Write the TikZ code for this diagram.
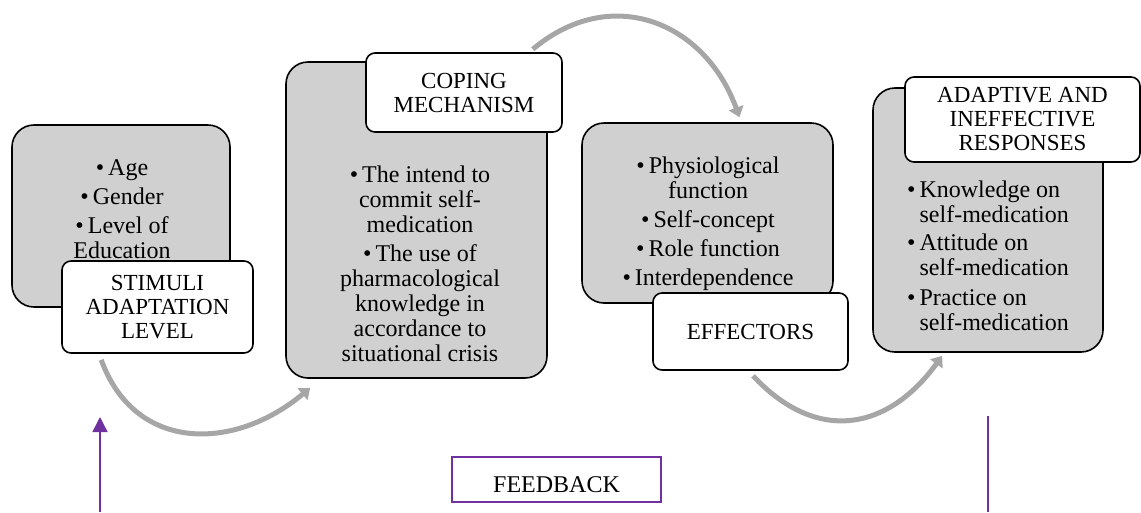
\documentclass[tikz,border=0pt]{standalone}
\usepackage{fontspec}
\setmainfont{Liberation Serif}
\usetikzlibrary{arrows.meta}
\definecolor{boxgray}{HTML}{D0D0D0}
\definecolor{arcgray}{HTML}{A6A6A6}
\definecolor{fbpurple}{HTML}{7030A0}
\newcommand{\itm}{\textbullet\kern4pt}

\begin{document}
\begin{tikzpicture}[x=1pt,y=1pt,
		panel/.style={draw=black,line width=1.6pt,fill=boxgray,rounded corners=22pt,inner sep=0pt},
		tag/.style={draw=black,line width=1.6pt,fill=white,rounded corners=9pt,inner sep=0pt,align=center,font=\fontsize{23}{24}\selectfont},
		items/.style={inner sep=0pt,anchor=north,align=center,font=\fontsize{24}{25}\selectfont},
		flow/.style={draw=arcgray,line width=5pt,-{Triangle[length=10pt,width=15pt]}},
		fbline/.style={draw=fbpurple,line width=1.3pt}]
	\useasboundingbox (0,0) rectangle (1141,-512);

	\node (stimbox) [panel,minimum width=218pt,minimum height=182pt] at (121,-216) {};
	\node (copebox) [panel,minimum width=261pt,minimum height=316pt] at (416.5,-220) {};
	\node (effbox) [panel,minimum width=251pt,minimum height=180pt] at (707.5,-213) {};
	\node (respbox) [panel,minimum width=230pt,minimum height=264pt] at (988,-220) {};

	\node (stimlist) [items] at (122,-159) {\itm Age\\[4pt]\itm Gender\\[4pt]\itm Level of\\Education};
	\node (copelist) [items] at (420,-166) {\itm The intend to\\commit self-\\medication\\[4pt]\itm The use of\\pharmacological\\knowledge in\\accordance to\\situational crisis};
	\node (efflist) [items] at (708,-157) {\itm Physiological\\function\\[4pt]\itm Self-concept\\[4pt]\itm Role function\\[4pt]\itm Interdependence};
	\node (resplist) [items,anchor=north west,align=left] at (907,-181) {\itm Knowledge on\\\phantom{\itm}self-medication\\[3pt]\itm Attitude on\\\phantom{\itm}self-medication\\[5pt]\itm Practice on\\\phantom{\itm}self-medication};

	\node (stimuli) [tag,minimum width=191pt,minimum height=92pt] at (157.5,-307) {STIMULI\\ADAPTATION\\LEVEL};
	\node (coping) [tag,minimum width=196pt,minimum height=79pt] at (464,-92.5) {COPING\\MECHANISM};
	\node (effectors) [tag,minimum width=195pt,minimum height=77pt] at (750.5,-331.5) {EFFECTORS};
	\node (responses) [tag,minimum width=235pt,minimum height=85pt] at (1022.5,-119.5) {ADAPTIVE AND\\INEFFECTIVE\\RESPONSES};

	\node (feedback) [draw=fbpurple,line width=2pt,minimum width=209pt,minimum height=45pt,inner sep=0pt,text height=25pt,text depth=0pt,font=\fontsize{24}{25}\selectfont] at (556.5,-479.5) {FEEDBACK};

	\draw [flow] ([xshift=40pt,yshift=-6pt]stimuli.south west) to[out=-70,in=220,looseness=1.2] ([xshift=25pt,yshift=-9pt]copebox.south west);
	\draw [flow] ([xshift=-30pt,yshift=3pt]coping.north east) to[out=40,in=110,looseness=1.2] ([xshift=32pt,yshift=5pt]effbox.north);
	\draw [flow] ([xshift=2.5pt,yshift=-5pt]effectors.south) to[out=-47,in=234,looseness=1.25] ([xshift=70pt,yshift=-3pt]respbox.south west);

	\coordinate (fbin) at (100,-512);
	\coordinate (fbtip) at (100,-417);
	\coordinate (fbout) at (988,-416);
	\coordinate (fbend) at (988,-512);
	\draw [fbline,-{Triangle[length=15pt,width=15pt]}] (fbin) -- (fbtip);
	\draw [fbline] (fbout) -- (fbend);
\end{tikzpicture}
\end{document}
